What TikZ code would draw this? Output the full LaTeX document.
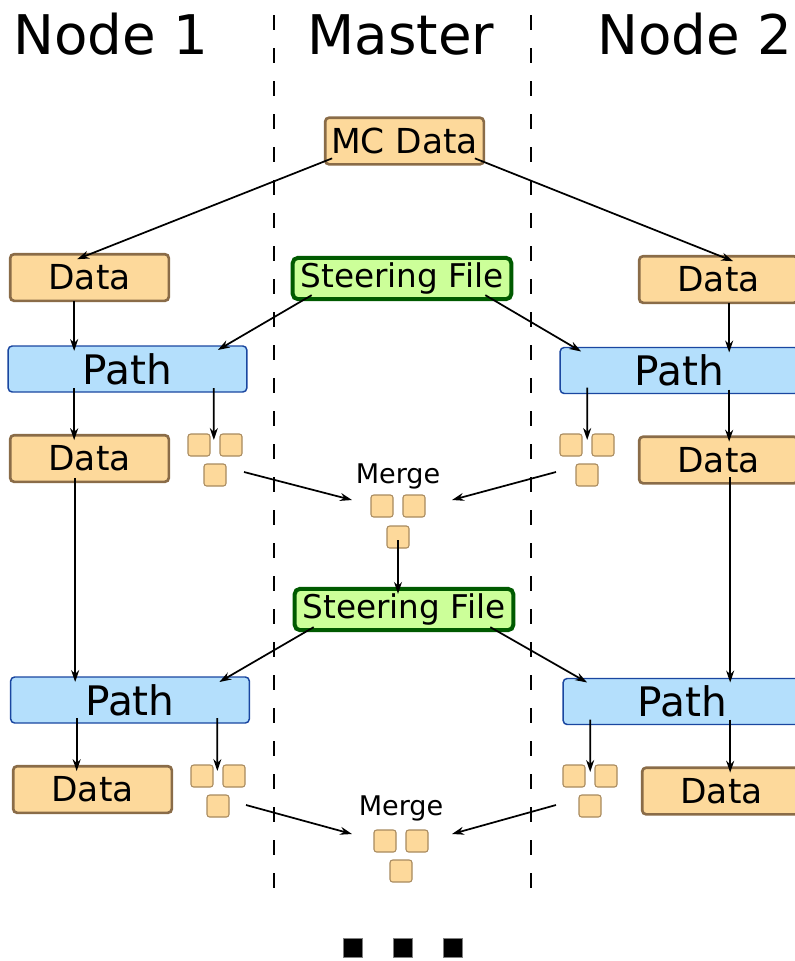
\documentclass[tikz,border=0pt]{standalone}
\usepackage{fontspec}
\setmainfont{DejaVu Sans}
\usetikzlibrary{arrows.meta}
\definecolor{orfill}{HTML}{FDD99B}
\definecolor{orline}{HTML}{8A6C48}
\definecolor{sqline}{HTML}{A88A5E}
\definecolor{bluefill}{HTML}{B4DFFC}
\definecolor{blueline}{HTML}{1A46A0}
\definecolor{greenfill}{HTML}{CCFF99}
\definecolor{greenline}{HTML}{005A00}
\tikzset{
  every node/.style={outer sep=0pt},
  databox/.style={draw=orline, fill=orfill, line width=2pt, rounded corners=3pt,
    minimum width=119pt, minimum height=35pt, inner sep=0pt, font=\fontsize{25.8}{30}\selectfont},
  mcbox/.style={databox},
  pathbox/.style={draw=blueline, fill=bluefill, line width=1.1pt, rounded corners=3pt,
    minimum width=179pt, minimum height=34.5pt, inner sep=0pt, font=\fontsize{30.5}{34}\selectfont},
  steerbox/.style={draw=greenline, fill=greenfill, line width=3pt, rounded corners=4pt,
    minimum width=164pt, minimum height=31pt, inner sep=0pt, font=\fontsize{24.5}{28}\selectfont},
  sq/.style={draw=sqline, fill=orfill, line width=0.8pt, rounded corners=2pt,
    minimum size=16.5pt, inner sep=0pt},
  dotsq/.style={draw=gray, fill=black, line width=0.5pt, minimum size=14pt, inner sep=0pt},
  title/.style={anchor=base, font=\fontsize{41}{48}\selectfont},
  mergelbl/.style={anchor=base, font=\fontsize{20.3}{24}\selectfont},
  arr/.style={-{Stealth[length=9pt,width=6pt]}, line width=1.3pt},
  divider/.style={line width=1pt, dash pattern=on 11.25pt off 13.5pt},
}
\begin{document}
\begin{tikzpicture}[x=0.75pt,y=-0.75pt]
\useasboundingbox (0,0) rectangle (795,961);
\clip (0,0) rectangle (795,961);
% titles
\node[title] (t1) at (111,54) {Node 1};
\node[title] (t2) at (401,54) {Master};
\node[title] (t3) at (695,54) {Node 2};
% dividers
\coordinate (d1t) at (274,15); \coordinate (d1b) at (274,890);
\coordinate (d2t) at (531,15); \coordinate (d2b) at (531,890);
\draw[divider] (d1t) -- (d1b);
\draw[divider] (d2t) -- (d2b);
% boxes
\node[mcbox] (mc) at (404.5,141) {MC Data};
\node[databox] (dataL1) at (89.5,277.5) {Data};
\node[steerbox] (steer1) at (402,278.5) {Steering File};
\node[databox] (dataR1) at (718.5,279.5) {Data};
\node[pathbox] (pathL1) at (127.5,369) {Path};
\node[pathbox] (pathR1) at (679.5,370.5) {Path};
\node[databox] (dataL2) at (89.5,458.5) {Data};
\node[databox] (dataR2) at (718.5,460) {Data};
\node[steerbox] (steer2) at (404,609.5) {Steering File};
\node[pathbox] (pathL2) at (130,700) {Path};
\node[pathbox] (pathR2) at (682.5,701.5) {Path};
\node[databox] (dataL3) at (92.5,789.5) {Data};
\node[databox] (dataR3) at (721.5,791) {Data};
% small squares
\node[sq] (sqL1a) at (199,445) {}; \node[sq] (sqL1b) at (231,445) {}; \node[sq] (sqL1c) at (215,475) {};
\node[sq] (sqR1a) at (571,445) {}; \node[sq] (sqR1b) at (603,445) {}; \node[sq] (sqR1c) at (587,475) {};
\node[sq] (sqM1a) at (382,506) {}; \node[sq] (sqM1b) at (414,506) {}; \node[sq] (sqM1c) at (398,537) {};
\node[sq] (sqL2a) at (202,776) {}; \node[sq] (sqL2b) at (234,776) {}; \node[sq] (sqL2c) at (218,806) {};
\node[sq] (sqR2a) at (574,776) {}; \node[sq] (sqR2b) at (606,776) {}; \node[sq] (sqR2c) at (590,806) {};
\node[sq] (sqM2a) at (385,841) {}; \node[sq] (sqM2b) at (417,841) {}; \node[sq] (sqM2c) at (401,871) {};
% merge labels
\node[mergelbl] (merge1) at (398,483) {Merge};
\node[mergelbl] (merge2) at (401,815) {Merge};
% ellipsis
\node[dotsq] (dot1) at (352.5,948) {};
\node[dotsq] (dot2) at (402.5,948) {};
\node[dotsq] (dot3) at (452.5,948) {};
% arrows
\draw[arr] ([shift={(7,-6)}]mc.south west) -- ([shift={(67,5)}]dataL1.north west);
\draw[arr] ([shift={(-9,-6)}]mc.south east) -- ([shift={(94,5)}]dataR1.north west);
\draw[arr] ([shift={(64,0)}]dataL1.south west) -- ([shift={(66,5)}]pathL1.north west);
\draw[arr] ([shift={(19,-4)}]steer1.south west) -- ([shift={(-29,4)}]pathL1.north east);
\draw[arr] ([shift={(-26,-4)}]steer1.south east) -- ([shift={(21,4)}]pathR1.north west);
\draw[arr] ([shift={(90,0)}]dataR1.south west) -- ([shift={(169,5)}]pathR1.north west);
\draw[arr] ([shift={(66,-4)}]pathL1.south west) -- ([shift={(64,5)}]dataL2.north west);
\draw[arr] ([shift={(-33,-4)}]pathL1.south east) -- ([shift={(3.833,6)}]sqL1a.north east);
\draw[arr] ([shift={(27,-6)}]pathR1.south west) -- ([shift={(5.167,6)}]sqR1a.north east);
\draw[arr] ([shift={(169,-4)}]pathR1.south west) -- ([shift={(90,5)}]dataR2.north west);
\draw[arr] ([shift={(18,8)}]sqL1c.north east) -- ([shift={(-19,-6)}]sqM1a.west);
\draw[arr] ([shift={(-20,8)}]sqR1c.north west) -- ([shift={(27,-6)}]sqM1b.east);
\draw[arr] ([shift={(0,3)}]sqM1c.center) -- ([shift={(-6,5)}]steer2.north);
\draw[arr] ([shift={(65,-4)}]dataL2.south west) -- ([shift={(64.5,5)}]pathL2.north west);
\draw[arr] ([shift={(91,-6)}]dataR2.south west) -- ([shift={(167,4)}]pathR2.north west);
\draw[arr] ([shift={(19,-3)}]steer2.south west) -- ([shift={(-30,5)}]pathL2.north east);
\draw[arr] ([shift={(-23,-3)}]steer2.south east) -- ([shift={(24,4)}]pathR2.north west);
\draw[arr] ([shift={(66,-5)}]pathL2.south west) -- ([shift={(63.5,5)}]dataL3.north west);
\draw[arr] ([shift={(-32,-5)}]pathL2.south east) -- ([shift={(4.333,6)}]sqL2a.north east);
\draw[arr] ([shift={(27,-5)}]pathR2.south west) -- ([shift={(5.167,7)}]sqR2a.north east);
\draw[arr] ([shift={(167,-5)}]pathR2.south west) -- ([shift={(88,5)}]dataR3.north west);
\draw[arr] ([shift={(17,10)}]sqL2c.north east) -- ([shift={(-22,-7)}]sqM2a.west);
\draw[arr] ([shift={(-23,10)}]sqR2c.north west) -- ([shift={(24,-7)}]sqM2b.east);
\end{tikzpicture}
\end{document}
